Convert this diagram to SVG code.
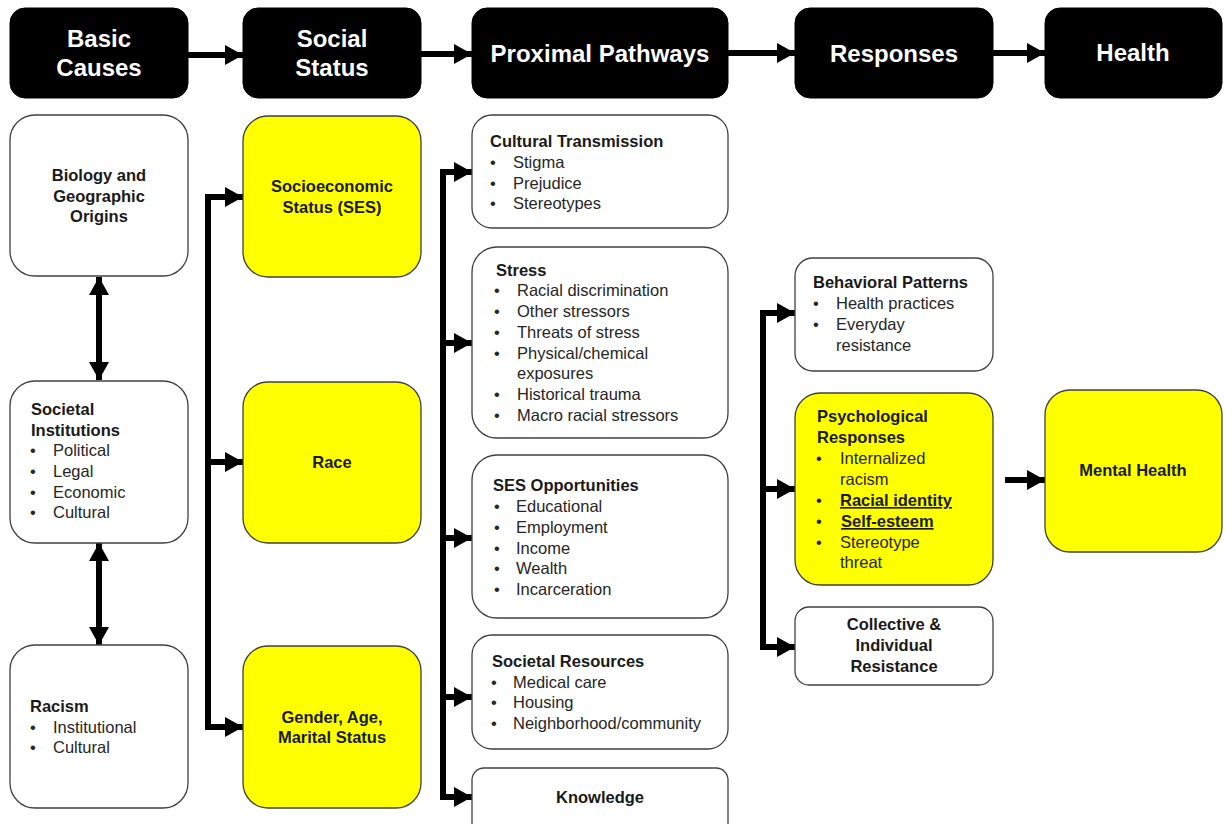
<svg xmlns="http://www.w3.org/2000/svg" width="1225" height="824" viewBox="0 0 1225 824">
<defs>
<marker id="ah" markerUnits="userSpaceOnUse" markerWidth="22" markerHeight="22" refX="18" refY="10" orient="auto-start-reverse" viewBox="0 0 22 22">
<path d="M0,0 L18,10 L0,20 z" fill="#000"/>
</marker>
<style>
.hdr{fill:#000;stroke:#000;stroke-width:1}
.ht{font-family:"Liberation Sans",Arial,sans-serif;font-weight:bold;font-size:24px;fill:#fff;text-anchor:middle}
.bx{fill:#fff;stroke:#404040;stroke-width:1.3}
.yb{fill:#ffff00;stroke:#404040;stroke-width:1.3}
.b{font-family:"Liberation Sans",Arial,sans-serif;font-weight:bold;font-size:16.5px;fill:#1a1a1a}
.c{text-anchor:middle}
.r{font-family:"Liberation Sans",Arial,sans-serif;font-size:16.5px;fill:#262626}
.u{text-decoration:underline}
.ln{fill:none;stroke:#000;stroke-width:6}
.ar{fill:none;stroke:#000;stroke-width:6;marker-end:url(#ah)}
.da{fill:none;stroke:#000;stroke-width:6;marker-end:url(#ah);marker-start:url(#ah)}
</style>
</defs>
<rect width="1225" height="824" fill="#fff"/>

<g id="connectors">
<path class="ar" d="M188,55 H243"/>
<path class="ar" d="M421,54 H472"/>
<path class="ar" d="M728,53 H795"/>
<path class="ar" d="M993,53 H1045"/>
<path class="da" d="M99,277 V380"/>
<path class="da" d="M99,543 V645"/>
<path class="ln" d="M208,194 V730"/>
<path class="ar" d="M205,197 H243"/>
<path class="ar" d="M208,462 H243"/>
<path class="ar" d="M205,727 H243"/>
<path class="ln" d="M443,169 V800"/>
<path class="ar" d="M440,172 H472"/>
<path class="ar" d="M443,343 H472"/>
<path class="ar" d="M443,538 H472"/>
<path class="ar" d="M443,697 H472"/>
<path class="ar" d="M440,797 H472"/>
<path class="ln" d="M763,310 V650"/>
<path class="ar" d="M760,313 H795"/>
<path class="ar" d="M763,489 H795"/>
<path class="ar" d="M760,647 H795"/>
<path class="ar" d="M1005,480 H1045"/>
</g>

<g id="hdr-basic"><rect class="hdr" x="10" y="8" width="178" height="90" rx="15"/><text class="ht" x="99" y="47">Basic</text><text class="ht" x="99" y="76">Causes</text></g>
<g id="hdr-social"><rect class="hdr" x="243" y="8" width="178" height="90" rx="15"/><text class="ht" x="332" y="47">Social</text><text class="ht" x="332" y="76">Status</text></g>
<g id="hdr-proximal"><rect class="hdr" x="472" y="8" width="256" height="90" rx="15"/><text class="ht" x="600" y="62">Proximal Pathways</text></g>
<g id="hdr-responses"><rect class="hdr" x="795" y="8" width="198" height="90" rx="15"/><text class="ht" x="894" y="62">Responses</text></g>
<g id="hdr-health"><rect class="hdr" x="1045" y="8" width="177" height="90" rx="15"/><text class="ht" x="1133" y="61">Health</text></g>

<g id="biology"><rect class="bx" x="10" y="115" width="178" height="161" rx="25"/>
<text class="b c" x="99" y="181">Biology and</text><text class="b c" x="99" y="202">Geographic</text><text class="b c" x="99" y="222">Origins</text></g>

<g id="institutions"><rect class="bx" x="10" y="381" width="178" height="162" rx="25"/>
<text class="b" x="31" y="415">Societal</text><text class="b" x="31" y="436">Institutions</text>
<g class="r"><text x="30" y="456">•</text><text x="53" y="456">Political</text>
<text x="30" y="477">•</text><text x="53" y="477">Legal</text>
<text x="30" y="498">•</text><text x="53" y="498">Economic</text>
<text x="30" y="518">•</text><text x="53" y="518">Cultural</text></g></g>

<g id="racism"><rect class="bx" x="10" y="645" width="178" height="163" rx="25"/>
<text class="b" x="30" y="712">Racism</text>
<g class="r"><text x="30" y="733">•</text><text x="53" y="733">Institutional</text>
<text x="30" y="753">•</text><text x="53" y="753">Cultural</text></g></g>

<g id="ses"><rect class="yb" x="243" y="116" width="178" height="161" rx="25"/>
<text class="b c" x="332" y="192">Socioeconomic</text><text class="b c" x="332" y="213">Status (SES)</text></g>

<g id="race"><rect class="yb" x="243" y="382" width="178" height="161" rx="25"/>
<text class="b c" x="332" y="468">Race</text></g>

<g id="gender"><rect class="yb" x="243" y="646" width="178" height="162" rx="25"/>
<text class="b c" x="332" y="723">Gender, Age,</text><text class="b c" x="332" y="743">Marital Status</text></g>

<g id="cultural"><rect class="bx" x="472" y="115" width="256" height="113" rx="20"/>
<text class="b" x="490" y="147">Cultural Transmission</text>
<g class="r"><text x="490" y="168">•</text><text x="513" y="168">Stigma</text>
<text x="490" y="189">•</text><text x="513" y="189">Prejudice</text>
<text x="490" y="209">•</text><text x="513" y="209">Stereotypes</text></g></g>

<g id="stress"><rect class="bx" x="472" y="247" width="256" height="191" rx="25"/>
<text class="b" x="496" y="276">Stress</text>
<g class="r"><text x="494" y="296">•</text><text x="517" y="296">Racial discrimination</text>
<text x="494" y="317">•</text><text x="517" y="317">Other stressors</text>
<text x="494" y="338">•</text><text x="517" y="338">Threats  of stress</text>
<text x="494" y="359">•</text><text x="517" y="359">Physical/chemical</text>
<text x="517" y="379">exposures</text>
<text x="494" y="400">•</text><text x="517" y="400">Historical trauma</text>
<text x="494" y="421">•</text><text x="517" y="421">Macro racial stressors</text></g></g>

<g id="sesopp"><rect class="bx" x="472" y="455" width="256" height="163" rx="25"/>
<text class="b" x="493" y="491">SES Opportunities</text>
<g class="r"><text x="494" y="512">•</text><text x="516" y="512">Educational</text>
<text x="494" y="533">•</text><text x="516" y="533">Employment</text>
<text x="494" y="554">•</text><text x="516" y="554">Income</text>
<text x="494" y="574">•</text><text x="516" y="574">Wealth</text>
<text x="494" y="595">•</text><text x="516" y="595">Incarceration</text></g></g>

<g id="resources"><rect class="bx" x="472" y="635" width="256" height="114" rx="20"/>
<text class="b" x="492" y="667">Societal Resources</text>
<g class="r"><text x="491" y="688">•</text><text x="513" y="688">Medical care</text>
<text x="491" y="708">•</text><text x="513" y="708">Housing</text>
<text x="491" y="729">•</text><text x="513" y="729">Neighborhood/community</text></g></g>

<g id="knowledge"><rect class="bx" x="472" y="768" width="256" height="70" rx="12"/>
<text class="b c" x="600" y="803">Knowledge</text></g>

<g id="behavioral"><rect class="bx" x="795" y="258" width="198" height="113" rx="18"/>
<text class="b" x="813" y="288">Behavioral Patterns</text>
<g class="r"><text x="813" y="309">•</text><text x="836" y="309">Health  practices</text>
<text x="813" y="330">•</text><text x="836" y="330">Everyday</text>
<text x="836" y="351">resistance</text></g></g>

<g id="psych"><rect class="yb" x="795" y="393" width="198" height="192" rx="25"/>
<text class="b" x="817" y="422">Psychological</text><text class="b" x="817" y="443">Responses</text>
<g class="r"><text x="816" y="464">•</text><text x="840" y="464">Internalized</text>
<text x="840" y="485">racism</text>
<text x="816" y="506">•</text><text class="b u" x="840" y="506">Racial identity</text>
<text x="816" y="527">•</text><text class="b u" x="841" y="527">Self-esteem</text>
<text x="816" y="548">•</text><text x="840" y="548">Stereotype</text>
<text x="840" y="568">threat</text></g></g>

<g id="collective"><rect class="bx" x="795" y="607" width="198" height="78" rx="14"/>
<text class="b c" x="894" y="630">Collective &amp;</text><text class="b c" x="894" y="651">Individual</text><text class="b c" x="894" y="672">Resistance</text></g>

<g id="mental"><rect class="yb" x="1045" y="390" width="177" height="162" rx="25"/>
<text class="b c" x="1133" y="476">Mental Health</text></g>
</svg>
